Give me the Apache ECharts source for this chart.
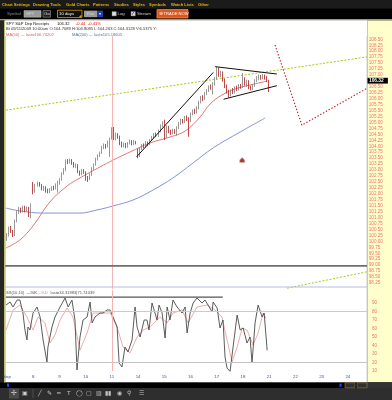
<!DOCTYPE html>
<html><head><meta charset="utf-8">
<script src="https://cdn.jsdelivr.net/npm/echarts/dist/echarts.min.js"></script>
<style>html,body{margin:0;padding:0;background:#2d2d2d;}#c{width:392px;height:400px;}</style>
</head><body><div id="c"></div>
<script>
// ---------- categories / tick labels ----------
const dayLabels = ['Sep','8','9','10','11','14','15','16','17','18','21','22','23','24'];
const barsPerDay = 13;
const totalSlots = 179;
const priceLabelRange = [98.25, 108.5];
const stochLabelRange = [10, 90];

// ---------- price bars [open, close, low, high] (30-min bars) ----------
const sep04 = [[100.10,100.27,100.02,100.35],[100.27,100.56,100.20,100.62],[100.56,100.42,100.35,100.65],[100.42,100.25,100.18,100.48],[100.25,100.85,100.22,100.92],[100.85,101.24,100.80,101.30],[101.24,101.38,101.15,101.45],[101.38,101.28,101.20,101.42],[101.28,101.45,101.22,101.50],[101.45,101.30,101.22,101.50],[101.30,101.40,101.25,101.47],[101.40,101.22,101.02,101.45],[101.22,101.50,100.98,101.60]];
const sep08 = [[102.40,102.10,101.98,102.50],[102.10,102.35,102.05,102.42],[102.35,102.45,102.30,102.52],[102.45,102.38,102.30,102.50],[102.38,102.20,102.15,102.42],[102.20,102.28,102.12,102.34],[102.28,102.15,102.05,102.32],[102.15,102.08,102.02,102.22],[102.08,102.18,102.03,102.24],[102.18,102.26,102.12,102.32],[102.26,102.22,102.15,102.34],[102.22,102.38,102.18,102.44],[102.38,102.42,102.05,102.55]];
const sep09 = [[102.42,102.60,102.38,102.66],[102.60,102.85,102.55,102.90],[102.85,103.00,102.80,103.08],[103.00,103.38,102.95,103.45],[103.38,103.32,103.25,103.46],[103.32,103.42,103.28,103.48],[103.42,103.30,103.22,103.46],[103.30,103.18,103.10,103.34],[103.18,103.22,103.08,103.28],[103.22,102.95,102.88,103.25],[102.95,102.82,102.76,102.98],[102.82,102.98,102.78,103.04],[102.98,102.90,102.84,103.04]];
const sep10 = [[102.90,102.70,102.55,102.95],[102.70,102.62,102.50,102.75],[102.62,102.80,102.58,102.86],[102.80,103.05,102.75,103.12],[103.05,103.22,103.00,103.28],[103.22,103.45,103.18,103.52],[103.45,103.60,103.40,103.66],[103.60,103.72,103.55,103.78],[103.72,103.95,103.68,104.02],[103.95,104.05,103.88,104.12],[104.05,103.98,103.90,104.10],[103.98,104.18,103.95,104.24],[104.18,104.30,103.55,104.36]];
const sep11 = [[104.30,104.72,104.28,104.80],[104.7089,104.3128,104.263,104.8085],[104.31,104.50,104.25,104.58],[104.50,104.40,104.32,104.55],[104.40,104.15,104.05,104.45],[104.15,104.02,103.95,104.20],[104.02,104.10,103.96,104.16],[104.10,103.98,103.92,104.14],[103.98,104.12,103.94,104.18],[104.12,104.22,104.08,104.28],[104.22,104.10,104.04,104.26],[104.10,104.20,104.05,104.26],[104.20,104.15,104.08,104.22]];
const sep14 = [[103.85,103.62,103.50,103.90],[103.62,103.90,103.55,103.96],[103.90,104.05,103.85,104.10],[104.05,103.98,103.92,104.12],[103.98,104.15,103.94,104.22],[104.15,104.08,104.00,104.20],[104.08,104.26,104.05,104.30],[104.26,104.38,104.22,104.44],[104.38,104.50,104.32,104.56],[104.50,104.45,104.38,104.58],[104.45,104.62,104.40,104.70],[104.62,104.85,104.58,104.92],[104.85,104.95,104.80,105.05]];
const sep15 = [[105.05,104.72,104.26,105.12],[104.72,104.80,104.35,104.88],[104.80,104.62,104.55,104.86],[104.62,104.55,104.48,104.70],[104.55,104.68,104.50,104.74],[104.68,104.60,104.52,104.72],[104.60,104.78,104.45,104.84],[104.78,104.95,104.72,105.02],[104.95,105.10,104.90,105.16],[105.10,105.02,104.96,105.15],[105.02,105.20,104.98,105.28],[105.20,105.14,105.06,105.30],[105.14,105.05,104.40,105.22]];
const sep16 = [[105.10,105.35,105.02,105.42],[105.35,105.48,105.30,105.55],[105.48,105.42,105.35,105.58],[105.42,105.60,105.38,105.68],[105.60,105.85,105.55,105.92],[105.85,106.05,105.80,106.12],[106.05,105.98,105.90,106.15],[105.98,106.20,105.95,106.28],[106.20,106.32,106.15,106.40],[106.32,106.50,106.28,106.56],[106.50,106.45,106.38,106.60],[106.45,106.62,106.18,106.70],[106.62,106.85,106.55,106.92]];
const sep17 = [[106.85,107.25,106.80,107.35],[107.25,107.00,106.92,107.32],[107.00,107.10,106.90,107.18],[107.10,106.80,106.72,107.15],[106.80,106.55,106.45,106.85],[106.55,106.30,106.22,106.60],[106.30,106.15,106.05,106.38],[106.15,106.35,106.10,106.40],[106.35,106.28,106.20,106.45],[106.28,106.45,106.22,106.52],[106.45,106.40,106.32,106.55],[106.40,106.55,106.35,106.62],[106.55,106.50,106.42,106.62]];
const sep18 = [[106.50,106.80,106.45,107.08],[106.80,106.65,106.55,106.90],[106.65,106.72,106.50,106.80],[106.72,106.48,106.40,106.78],[106.48,106.40,106.35,106.55],[106.40,106.55,106.36,106.62],[106.55,106.75,106.50,106.82],[106.75,106.85,106.70,106.95],[106.85,106.95,106.78,107.02],[106.95,106.88,106.80,107.00],[106.88,106.98,106.82,107.04],[106.98,106.90,106.80,107.02],[106.90,106.76,106.70,106.95]];
const sep21 = [[106.72,106.32,106.28,106.80]];

// ---------- header values ----------
const lastPrice = 106.32;
const netChange = -0.44;
const pctChange = -0.41;
const prevClose = lastPrice - netChange;
const crossBarText = 'Bt 09/11/2009 10:00am O:104.7089 H:104.8085 L:104.263 C:104.3128 V:6.5375 Y:';
const ma50Last = '106.74202', ma200Last = '105.18605';
const stochLast = '34.31983|71.74039';

// ---------- moving averages [slot, price] ----------
const ma50Pts = [[-0.5,99.72],[6.4,100.06],[12.9,100.65],[21.3,101.66],[29.8,102.33],[36.2,102.67],[46.1,103.13],[52.6,103.42],[61.0,103.76],[70.9,104.14],[80.8,104.39],[88.3,104.64],[95.7,105.23],[100.7,105.78],[106.6,106.16],[113.1,106.41],[120.5,106.58],[129.0,106.74]];
const ma200Pts = [[-0.5,101.40],[6.4,101.28],[17.9,101.19],[36.2,101.19],[44.6,101.32],[52.6,101.49],[62.5,101.74],[72.4,102.16],[82.3,102.67],[92.3,103.30],[102.2,103.93],[115.6,104.60],[128.0,105.19]];

// ---------- drawn annotations [slot, price] ----------
const greenUpper = [[-0.5,105.52],[178.5,107.76]];
const greenLower = [[138.9,98.03],[178.5,98.72]];
const redPath = [[132.9,108.26],[146.2,104.89],[178.5,106.44]];
const risingTrend = [[64.3,103.56],[102.3,107.11]];
const wedgeTop = [[103.2,107.35],[133.8,107.04]];
const wedgeBottom = [[107.4,105.98],[133.8,106.55]];
const markerPt = [[116.6,103.42]];
const crossSlot = 52.3;

// ---------- stochastics [slot, value] ----------
const stochK = [[-0.5,87.6],[1.5,91.2],[3.0,85.3],[5.0,93.5],[6.4,93.5],[7.9,78.2],[8.9,58.2],[9.9,46.5],[10.4,61.8],[11.4,58.2],[12.9,78.2],[14.9,85.3],[16.4,73.5],[17.9,46.5],[19.8,20.6],[20.3,38.2],[22.3,61.8],[23.8,73.5],[26.3,85.3],[28.8,95.9],[30.3,85.3],[32.2,93.5],[33.7,70.0],[34.7,11.2],[36.2,50.0],[37.7,70.0],[39.7,73.5],[41.2,91.2],[42.2,66.5],[43.6,73.5],[46.1,78.2],[47.6,78.2],[49.6,81.8],[51.1,81.8],[52.6,73.5],[54.6,61.8],[55.6,19.4],[57.0,14.7],[58.5,38.2],[60.0,32.4],[62.0,46.5],[63.5,85.3],[64.5,61.8],[66.0,50.0],[68.0,70.0],[69.4,70.0],[70.4,58.2],[71.9,90.0],[74.4,70.0],[75.4,87.6],[76.9,78.2],[78.4,48.8],[79.4,85.3],[80.8,70.0],[82.3,93.5],[84.3,85.3],[86.8,78.2],[88.3,85.3],[89.3,54.7],[90.8,78.2],[92.3,90.0],[94.2,95.9],[96.7,90.0],[98.2,93.5],[99.7,87.6],[101.7,79.4],[102.2,91.2],[104.2,84.1],[105.6,60.6],[107.1,70.0],[108.1,26.5],[109.1,13.5],[110.6,9.5],[112.1,38.2],[114.1,75.9],[115.6,58.2],[117.1,60.6],[119.0,42.9],[120.5,50.0],[121.5,19.4],[123.0,66.5],[124.5,87.6],[126.5,73.5],[127.5,78.2],[129.0,34.3]];
const stochD = [[-0.5,58.2],[3.0,81.8],[6.4,87.6],[9.9,73.5],[12.9,58.2],[15.4,73.5],[18.8,66.5],[21.3,42.9],[23.8,52.4],[26.3,70.0],[29.8,84.1],[32.7,73.5],[36.2,34.7],[39.7,54.7],[42.7,78.2],[46.1,78.2],[51.1,78.2],[54.6,61.8],[57.5,38.2],[61.0,31.2],[64.5,50.0],[67.5,58.2],[70.9,61.8],[75.9,73.5],[79.4,66.5],[82.3,78.2],[86.8,81.8],[89.8,66.5],[94.2,85.3],[99.2,87.6],[103.2,81.8],[106.6,73.5],[109.1,46.5],[111.6,20.6],[114.1,38.2],[116.6,60.6],[119.0,58.2],[122.0,40.6],[124.5,54.7],[127.0,78.2],[128.5,71.7]];
const stochTopLine = [[-0.5,97],[107,97]];
const stochLevels = [80, 20];

// ---------- build ----------
const categories = [];
for (let i = 0; i < totalSlots; i++) {
  categories.push(dayLabels[Math.floor(i / barsPerDay)] + '|' + (i % barsPerDay));
}
const candles = [].concat(sep04, sep08, sep09, sep10, sep11, sep14, sep15, sep16, sep17, sep18, sep21);

const UI = 'Liberation Sans, Arial, sans-serif';
function txt(text, x, y, fill, size, weight, extra) {
  return Object.assign({ type: 'text', z: 101, style: { text: text, x: x, y: y, fill: fill,
    font: (weight || 'normal') + ' ' + size + 'px ' + UI, textVerticalAlign: 'middle', verticalAlign: 'middle' } }, extra || {});
}
function rect(x, y, w, h, fill, z, stroke, lw) {
  return { type: 'rect', z: z, shape: { x: x, y: y, width: w, height: h },
    style: { fill: fill, stroke: stroke || null, lineWidth: lw || 0 } };
}
function hline(x1, y1, x2, y2, stroke, lw, z) {
  return { type: 'line', z: z, shape: { x1: x1, y1: y1, x2: x2, y2: y2 }, style: { stroke: stroke, lineWidth: lw } };
}

const menuItems = [['Chart Settings',2],['Drawing Tools',33],['Gold Charts',66],['Patterns',93],['Studies',114],['Styles',133],['Symbols',149],['Watch Lists',171],['Other',198]];
const toolIcons = [['╱',38],['✎',47],['━',57],['T',67],['◯',76],['▢',86],['▥',96],['▮▮',105],['◉',117],['⚲',127],['☰',139]];

const graphics = [
  // backgrounds
  rect(0, 0, 392, 400, '#2d2d2d', -20),
  rect(0, 0, 392, 8.5, '#1b1b1b', -19),
  rect(0, 8.5, 392, 11, '#000000', -19),
  rect(0, 19, 392, 1.5, '#a89a58', -19),
  rect(0, 20.5, 5, 362, '#262626', -19),
  hline(4.6, 20.5, 4.6, 382.5, '#bdbd6a', 1.2, -18),
  rect(5.2, 20.5, 362, 362, '#ffffff', -19),
  rect(367, 20.5, 25, 362, '#ffffcc', -19),
  hline(367.2, 20.5, 367.2, 382.5, '#a0a0a0', 0.8, -18),
  rect(0, 382.5, 392, 5.5, '#000000', -19),
  rect(367, 382.5, 25, 5.5, '#333333', -18),
  rect(7, 383.6, 2, 3.2, '#2b45ff', -17),
  rect(339.5, 383.6, 2, 3.2, '#2b45ff', -17),
  rect(345, 382.8, 10, 5, '#303030', -17, '#a08040', 0.6),
  rect(357, 382.8, 10, 5, '#303030', -17, '#a08040', 0.6),
  rect(0, 388, 392, 12, '#2e2e2e', -19),
  rect(9, 388.5, 10, 10, '#4a4a4a', -18),
  txt('✢', 11, 393.5, '#d0d0d0', 7, 'normal', { z: 101 }),
  txt('▣', 22, 393.5, '#d0d0d0', 6),
  hline(33, 389, 33, 398, '#555', 0.8, 100),
  // panel separators
  hline(5.2, 265.9, 367, 265.9, '#6e6e6e', 1.6, 50),
  hline(5.2, 287, 367, 287, '#b7bbe3', 1, 50),
  // header cover
  rect(5.2, 20.5, 361.8, 15.8, '#ffffff', 90),
  // header text
  txt('SPY S&P Dep Receipts', 6, 23.6, '#111', 4.1),
  txt(lastPrice.toFixed(2), 57, 23.6, '#111', 4.1),
  txt(netChange.toFixed(2), 76, 23.6, '#e01010', 4.1),
  txt(pctChange.toFixed(2) + '%', 88, 23.6, '#e01010', 4.1),
  txt(crossBarText, 6, 29.3, '#333', 4.1),
  txt('MA(50) — last=' + ma50Last, 6, 34.6, '#e06060', 4.1),
  txt('MA(200) — last=' + ma200Last, 72, 34.6, '#5a6cc8', 4.1),
  // stochastic header
  txt('SS(10,10)', 6, 293, '#555', 4.1),
  txt('—%K', 26.5, 293, '#333', 4.1),
  txt('—%D', 37, 293, '#e08080', 4.1),
  txt('last=' + stochLast, 50.5, 293, '#555', 4.1),
  // toolbar
  txt('Symbol', 7, 14.2, '#8a8a8a', 4.3),
  rect(24, 10.6, 17, 6.6, '#9a9a9a', 100, '#c8c8c8', 0.5),
  txt('SPY', 26, 14, '#d8d8d8', 4.2),
  rect(43, 10.6, 7.5, 6.6, '#202020', 100, '#9a9a9a', 0.6),
  txt('Go', 44.3, 14, '#d8d8d8', 4.2),
  rect(57.5, 10.2, 24.5, 7.4, '#101010', 100, '#e0a000', 0.8),
  txt('10 days', 59, 14, '#ffffff', 4.3),
  { type: 'polygon', z: 101, shape: { points: [[81.5, 14.5], [81.5, 17.3], [78.7, 17.3]] }, style: { fill: '#e0a000' } },
  rect(84, 10.6, 13, 6.6, '#9a9a9a', 100),
  txt('15m', 86, 14, '#d0d0d0', 4.2),
  rect(97, 10.6, 6, 6.6, '#1f3fa8', 100),
  txt('▼', 98.2, 14, '#ffffff', 3.6),
  rect(112, 11.6, 4.3, 4.3, '#dddddd', 100, '#888', 0.4),
  txt('Log', 117.5, 14, '#cfcfcf', 4.3),
  rect(131, 11.6, 4.3, 4.3, '#dddddd', 100, '#888', 0.4),
  txt('✓', 131.3, 13.6, '#222', 4.5),
  txt('Stream', 137, 14, '#cfcfcf', 4.3),
  rect(157, 9.6, 31, 8.4, '#e0551a', 100, '#f59050', 0.8),
  txt('⊕', 158.8, 13.9, '#ffe0c0', 4.5),
  txt('TRADE NOW', 163.5, 14, '#ffffff', 4.1)
];
menuItems.forEach(function (m) { graphics.push(txt(m[0], m[1], 4.4, '#e8b400', 4.1, 'bold')); });
toolIcons.forEach(function (t) { graphics.push(txt(t[0], t[1], 393.5, '#c4c4c4', 6)); });

function lineSeries(data, color, width, type, xi, yi, extra) {
  return Object.assign({ type: 'line', xAxisIndex: xi, yAxisIndex: yi, data: data, showSymbol: false, symbol: 'none',
    silent: true, lineStyle: { color: color, width: width, type: type || 'solid' }, z: 3 }, extra || {});
}

const crossLine = function () {
  return { silent: true, symbol: 'none', label: { show: false },
    lineStyle: { color: '#f5b3b3', width: 1, type: 'solid' }, data: [{ xAxis: crossSlot }] };
};

const option = {
  animation: false,
  backgroundColor: 'transparent',
  graphic: graphics,
  grid: [
    { left: 6, right: 25, top: 21.5, height: 267.4 },
    { left: 6, right: 25, top: 290.25, height: 80.75 }
  ],
  xAxis: [
    { type: 'category', gridIndex: 0, data: categories, boundaryGap: true, axisLine: { show: false }, axisTick: { show: false }, axisLabel: { show: false }, splitLine: { show: false } },
    { type: 'value', gridIndex: 0, min: -0.5, max: 178.5, show: false },
    { type: 'category', gridIndex: 1, data: categories, boundaryGap: true, axisLine: { show: false }, axisTick: { show: false }, splitLine: { show: false },
      axisLabel: { interval: function (i) { return i % barsPerDay === 0; }, formatter: function (v) { return v.split('|')[0]; },
        fontSize: 4.4, fontFamily: UI, color: '#3a4fa8', margin: 3.6 } },
    { type: 'value', gridIndex: 1, min: -0.5, max: 178.5, show: false }
  ],
  yAxis: [
    { type: 'value', gridIndex: 0, position: 'right', min: 98, max: 109.25, interval: 0.25, scale: true,
      axisLine: { show: false }, axisTick: { show: false }, splitLine: { show: false },
      axisLabel: { margin: 1.8, fontSize: 4.6, fontFamily: UI, color: '#f07272',
        formatter: function (v) { return (v >= priceLabelRange[0] - 0.01 && v <= priceLabelRange[1] + 0.01 && Math.abs(v - 106.75) > 0.01) ? v.toFixed(2) : ''; } } },
    { type: 'value', gridIndex: 1, position: 'right', min: 10, max: 105, interval: 10,
      axisLine: { show: false }, axisTick: { show: false }, splitLine: { show: false },
      axisLabel: { margin: 5, fontSize: 4.6, fontFamily: UI, color: '#f07272',
        formatter: function (v) { return (v >= stochLabelRange[0] && v <= stochLabelRange[1]) ? String(v) : ''; } } }
  ],
  series: [
    lineSeries(ma50Pts, '#e07878', 1, 'solid', 1, 0, { smooth: 0.4, markLine: crossLine(), z: 2 }),
    lineSeries(ma200Pts, '#8494d8', 1, 'solid', 1, 0, { smooth: 0.4 }),
    { type: 'candlestick', xAxisIndex: 0, yAxisIndex: 0, data: candles, barWidth: 1.3, z: 4, silent: true,
      itemStyle: { color: '#ffffff', color0: '#cc1010', borderColor: '#7d7d7d', borderColor0: '#b51818', borderWidth: 0.8 },
      markLine: { silent: true, symbol: 'none', z: 20,
        lineStyle: { color: 'rgba(0,0,0,0)', width: 0.1, type: 'solid' },
        label: { show: true, position: 'end', distance: 0.5, formatter: lastPrice.toFixed(2), color: '#ffffff', backgroundColor: '#000000',
          fontSize: 4.8, fontWeight: 'bold', fontFamily: UI, padding: [0.6, 4.2, 0.2, 1.5] },
        data: [{ yAxis: prevClose }] } },
    lineSeries(greenUpper, '#a4cc10', 1, [2, 1.6], 1, 0),
    lineSeries(greenLower, '#a4cc10', 1, [2, 1.6], 1, 0),
    lineSeries(redPath, '#c42a2a', 1.2, [1.4, 1.8], 1, 0),
    lineSeries(risingTrend, '#111111', 1, 'solid', 1, 0, { z: 5 }),
    lineSeries(wedgeTop, '#111111', 1, 'solid', 1, 0, { z: 5 }),
    lineSeries(wedgeBottom, '#111111', 1, 'solid', 1, 0, { z: 5 }),
    { type: 'scatter', xAxisIndex: 1, yAxisIndex: 0, data: markerPt, silent: true, z: 5,
      symbol: 'path://M0,4 L4,0 L8,4 L8,8 L0,8 Z', symbolSize: [5, 5],
      itemStyle: { color: '#8b1010', borderColor: '#e8b0b0', borderWidth: 0.6 } },
    lineSeries(stochD, '#eaa4a4', 0.9, 'solid', 3, 1, { markLine: {
      silent: true, symbol: 'none', label: { show: false },
      data: [
        { yAxis: stochLevels[0], lineStyle: { color: '#ecbcbc', width: 1, type: 'solid' } },
        { yAxis: stochLevels[1], lineStyle: { color: '#c4c4c4', width: 1, type: 'solid' } },
        { xAxis: crossSlot, lineStyle: { color: '#f5b3b3', width: 1, type: 'solid' } }
      ] } }),
    lineSeries(stochK, '#4a4a4a', 0.9, 'solid', 3, 1),
    lineSeries(stochTopLine, '#555555', 1.2, 'solid', 3, 1)
  ]
};

const chart = echarts.init(document.getElementById('c'), null, { renderer: 'canvas' });
chart.setOption(option);
</script></body></html>
